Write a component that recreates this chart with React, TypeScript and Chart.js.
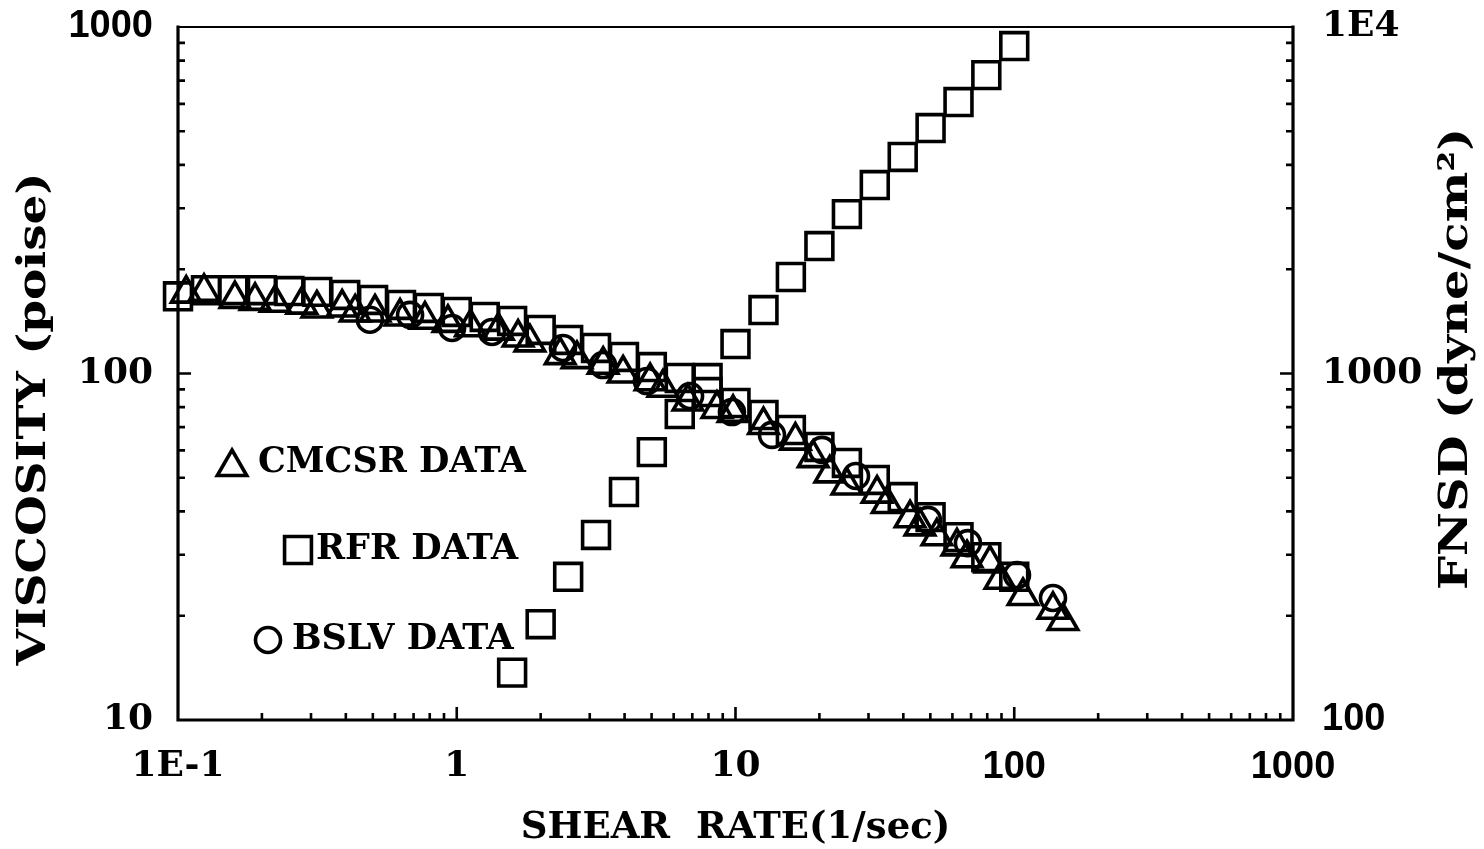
import React, { useEffect, useRef } from "react";
import { Chart, registerables } from "chart.js";

Chart.register(...registerables);

// ---------- data ----------
const CMCSR_X = [0.107, 0.124, 0.16, 0.189, 0.223, 0.278, 0.315, 0.388, 0.432, 0.509, 0.626, 0.769, 0.93, 1.12, 1.41, 1.66, 1.83, 2.35, 2.7, 3.35, 3.95, 4.94, 5.49, 6.75, 8.58, 9.8, 12.6, 16.4, 19.0, 21.8, 25.1, 32.2, 35.0, 42.3, 45.9, 52.8, 62.3, 67.7, 81.8, 88.9, 107.5, 137.7, 149.6];
const CMCSR_VISC = [170, 172, 164, 162, 160, 158, 154, 155, 150, 150, 146, 143, 140, 136, 133, 127, 123, 113, 110, 106, 100, 95, 91, 83, 79, 77, 71, 64, 57, 51.5, 47.5, 45, 42, 38.2, 36.2, 33.9, 31.7, 29.3, 28.3, 25.4, 22.8, 20.8, 19.3];

const RFR_X = [0.1, 0.126, 0.158, 0.2, 0.251, 0.316, 0.398, 0.501, 0.631, 0.794, 1, 1.26, 1.58, 2, 2.51, 3.16, 3.98, 5.01, 6.31, 7.94, 10, 12.6, 15.8, 20, 25.1, 31.6, 39.8, 50.1, 63.1, 79.4, 100];
const RFR_VISC = [167, 174, 174, 174, 173, 172, 168.5, 163, 157.7, 154.6, 150.5, 145.6, 141.8, 133.6, 125.0, 118.5, 111.6, 104.4, 97.1, 88.4, 82.2, 75.9, 68.7, 61.4, 55.2, 49.3, 44.0, 38.5, 33.7, 29.5, 25.9];

const RFR_FNSD_X = [1.58, 2, 2.51, 3.16, 3.98, 5.01, 6.31, 7.94, 10, 12.6, 15.8, 20, 25.1, 31.6, 39.8, 50.1, 63.1, 79.4, 100];
const RFR_FNSD = [137, 189, 259, 342, 455, 593, 764, 970, 1216, 1524, 1899, 2333, 2884, 3497, 4217, 5110, 6074, 7263, 8810];

const BSLV_X = [0.488, 0.68, 0.962, 1.338, 2.405, 3.347, 4.81, 6.87, 9.71, 13.52, 20.43, 27.06, 49.0, 68.2, 102.3, 137.7];
const BSLV_VISC = [143, 147.6, 135.3, 131.8, 118.5, 105.8, 95.1, 86.1, 77.4, 66.5, 60.2, 50.6, 37.8, 32.4, 26.2, 22.5];

const X_TICKS = [0.1, 1, 10, 100, 1000];
const X_TICK_LABELS = ["1E-1", "1", "10", "100", "1000"];
const Y_TICKS = [10, 100, 1000];
const Y_TICK_LABELS = ["10", "100", "1000"];
const Y1_TICKS = [100, 1000, 10000];
const Y1_TICK_LABELS = ["100", "1000", "1E4"];

const X_TITLE = "SHEAR  RATE(1/sec)";
const Y_TITLE = "VISCOSITY (poise)";
const Y1_TITLE = "FNSD (dyne/cm\u00B2)";

const LEGEND_LABELS = ["CMCSR DATA", "RFR DATA", "BSLV DATA"];
const LEGEND_STYLES = ["triangle", "rect", "circle"];

// ---------- styles ----------
const INK = "#000000";
const SERIF = '"DejaVu Serif", serif';
const SANS = '"Liberation Sans", Arial, sans-serif';
const SANS_X = ["100", "1000"];
const SANS_Y = ["1000"];
const SANS_Y1 = ["100"];
const TRI_R = 17;
const RECT_R = 19;
const CIRC_R = 12.5;
const MARK_W = 3.6;

// legend placement relative to chart area (marker x/y, text x/y)
const LEGEND_POS = [
  { mx: 54, my: 440, tx: 80, ty: 436 },
  { mx: 120, my: 523, tx: 138, ty: 523 },
  { mx: 90, my: 613, tx: 114, ty: 613 },
];

const tickFont = (labels: string[], sansLabels: string[]) => (c: any) => {
  let label: string | undefined = c && c.tick ? c.tick.label : undefined;
  if (typeof label !== "string" && c && typeof c.index === "number") label = labels[c.index];
  const sans = typeof label === "string" && sansLabels.includes(label);
  return sans
    ? { family: SANS, size: 38, weight: "bold" as const }
    : { family: SERIF, size: 36, weight: "bold" as const };
};

function drawMarker(ctx: CanvasRenderingContext2D, style: string, x: number, y: number) {
  ctx.beginPath();
  if (style === "triangle") {
    const s = TRI_R * Math.sin(Math.PI / 3);
    ctx.moveTo(x, y - TRI_R);
    ctx.lineTo(x + s, y + TRI_R / 2);
    ctx.lineTo(x - s, y + TRI_R / 2);
    ctx.closePath();
  } else if (style === "rect") {
    const h = RECT_R * Math.SQRT1_2;
    ctx.rect(x - h, y - h, 2 * h, 2 * h);
  } else {
    ctx.arc(x, y, CIRC_R, 0, Math.PI * 2);
  }
  ctx.stroke();
}

function drawVerticalText(
  ctx: CanvasRenderingContext2D,
  text: string,
  cx: number,
  cy: number,
  length: number,
  font: string
) {
  ctx.save();
  ctx.font = font;
  ctx.fillStyle = INK;
  ctx.translate(cx, cy);
  ctx.rotate(-Math.PI / 2);
  const w = ctx.measureText(text).width;
  ctx.scale(length / w, 1);
  ctx.textAlign = "center";
  ctx.textBaseline = "middle";
  ctx.fillText(text, 0, 0);
  ctx.restore();
}

const decorPlugin = {
  id: "decor",
  afterDraw(chart: any) {
    const { ctx, chartArea, scales } = chart;
    const { left, right, top, bottom } = chartArea;
    ctx.save();
    ctx.strokeStyle = INK;
    ctx.lineCap = "square";

    // frame
    ctx.lineWidth = 3.2;
    ctx.beginPath();
    ctx.moveTo(left, top);
    ctx.lineTo(left, bottom);
    ctx.lineTo(right, bottom);
    ctx.lineTo(right, top);
    ctx.stroke();
    ctx.lineWidth = 1.8;
    ctx.beginPath();
    ctx.moveTo(left, top);
    ctx.lineTo(right, top);
    ctx.stroke();

    // inward log ticks
    const logTicks = (min: number, max: number) => {
      const out: { v: number; major: boolean }[] = [];
      const d0 = Math.round(Math.log10(min));
      const d1 = Math.round(Math.log10(max));
      for (let d = d0; d < d1; d++) {
        for (let m = 1; m < 10; m++) out.push({ v: m * Math.pow(10, d), major: m === 1 });
      }
      return out;
    };
    ctx.lineWidth = 2.6;
    ctx.lineCap = "butt";
    ctx.beginPath();
    for (const t of logTicks(0.1, 1000)) {
      const px = scales.x.getPixelForValue(t.v);
      if (Math.abs(px - left) < 2) continue;
      const len = t.major ? 13 : 7;
      ctx.moveTo(px, bottom);
      ctx.lineTo(px, bottom - len);
    }
    for (const t of logTicks(10, 1000)) {
      const py = scales.y.getPixelForValue(t.v);
      if (Math.abs(py - bottom) < 2) continue;
      const len = t.major ? 13 : 7;
      ctx.moveTo(left, py);
      ctx.lineTo(left + len, py);
    }
    for (const t of logTicks(100, 10000)) {
      const py = scales.y1.getPixelForValue(t.v);
      if (Math.abs(py - bottom) < 2) continue;
      const len = t.major ? 13 : 7;
      ctx.moveTo(right, py);
      ctx.lineTo(right - len, py);
    }
    ctx.stroke();

    // vertical axis titles
    drawVerticalText(ctx, Y_TITLE, scales.y.left + 35, top + 392, 493, `bold 40px ${SERIF}`);
    drawVerticalText(ctx, Y1_TITLE, scales.y1.right - 27, top + 332, 462, `bold 40px ${SERIF}`);

    // legend
    ctx.lineWidth = MARK_W;
    ctx.fillStyle = INK;
    ctx.font = `bold 35px ${SERIF}`;
    ctx.textAlign = "left";
    ctx.textBaseline = "middle";
    LEGEND_LABELS.forEach((label, i) => {
      const p = LEGEND_POS[i];
      drawMarker(ctx, LEGEND_STYLES[i], left + p.mx, top + p.my);
      ctx.fillText(label, left + p.tx, top + p.ty);
    });
    ctx.restore();
  },
};

const pts = (xs: number[], ys: number[]) => xs.map((x, i) => ({ x, y: ys[i] }));

const markerDataset = (label: string, data: any[], style: string, radius: number, yAxisID = "y") => ({
  label,
  data,
  yAxisID,
  showLine: false,
  pointStyle: style,
  pointRadius: radius,
  pointHoverRadius: radius,
  pointBorderWidth: MARK_W,
  borderColor: INK,
  pointBorderColor: INK,
  backgroundColor: "rgba(0,0,0,0)",
  pointBackgroundColor: "rgba(0,0,0,0)",
  clip: false as const,
});

const fitVertical = (width: number) => (s: any) => {
  s.width = width;
  s.paddingTop = 0;
  s.paddingBottom = 0;
};

export default function App() {
  const canvasRef = useRef<HTMLCanvasElement | null>(null);

  useEffect(() => {
    if (!canvasRef.current) return;
    const chart = new Chart(canvasRef.current, {
      type: "scatter",
      data: {
        datasets: [
          markerDataset("RFR FNSD", pts(RFR_FNSD_X, RFR_FNSD), "rect", RECT_R, "y1"),
          markerDataset("RFR DATA", pts(RFR_X, RFR_VISC), "rect", RECT_R),
          markerDataset("BSLV DATA", pts(BSLV_X, BSLV_VISC), "circle", CIRC_R),
          markerDataset("CMCSR DATA", pts(CMCSR_X, CMCSR_VISC), "triangle", TRI_R),
        ] as any,
      },
      options: {
        animation: false,
        responsive: false,
        events: [],
        layout: { padding: { top: 27, left: 0, right: 0, bottom: 0 } },
        plugins: { legend: { display: false }, tooltip: { enabled: false } },
        scales: {
          x: {
            type: "logarithmic",
            position: "bottom",
            min: 0.1,
            max: 1000,
            grid: { display: false, drawTicks: false },
            border: { display: false },
            afterBuildTicks: (s: any) => {
              s.ticks = X_TICKS.map((value) => ({ value }));
            },
            afterFit: (s: any) => {
              s.height = 129;
              s.paddingLeft = 0;
              s.paddingRight = 0;
            },
            ticks: {
              autoSkip: false,
              maxRotation: 0,
              padding: 25,
              color: INK,
              font: tickFont(X_TICK_LABELS, SANS_X) as any,
              callback: (_v: any, i: number) => X_TICK_LABELS[i],
            },
            title: {
              display: true,
              text: X_TITLE,
              color: INK,
              font: { family: SERIF, size: 37, weight: "bold" },
              padding: { top: 0, bottom: -2 },
            },
          },
          y: {
            type: "logarithmic",
            position: "left",
            min: 10,
            max: 1000,
            grid: { display: false, drawTicks: false },
            border: { display: false },
            afterBuildTicks: (s: any) => {
              s.ticks = Y_TICKS.map((value) => ({ value }));
            },
            afterFit: fitVertical(178),
            ticks: {
              autoSkip: false,
              padding: 25,
              color: INK,
              font: tickFont(Y_TICK_LABELS, SANS_Y) as any,
              callback: (_v: any, i: number) => Y_TICK_LABELS[i],
            },
          },
          y1: {
            type: "logarithmic",
            position: "right",
            min: 100,
            max: 10000,
            grid: { display: false, drawTicks: false },
            border: { display: false },
            afterBuildTicks: (s: any) => {
              s.ticks = Y1_TICKS.map((value) => ({ value }));
            },
            afterFit: fitVertical(191),
            ticks: {
              autoSkip: false,
              padding: 29,
              color: INK,
              font: tickFont(Y1_TICK_LABELS, SANS_Y1) as any,
              callback: (_v: any, i: number) => Y1_TICK_LABELS[i],
            },
          },
        },
      } as any,
      plugins: [decorPlugin],
    });
    return () => chart.destroy();
  }, []);

  return (
    <div style={{ position: "absolute", left: 0, top: 0, width: 1484, height: 849, background: "#fff" }}>
      <canvas ref={canvasRef} width={1484} height={849} />
    </div>
  );
}
